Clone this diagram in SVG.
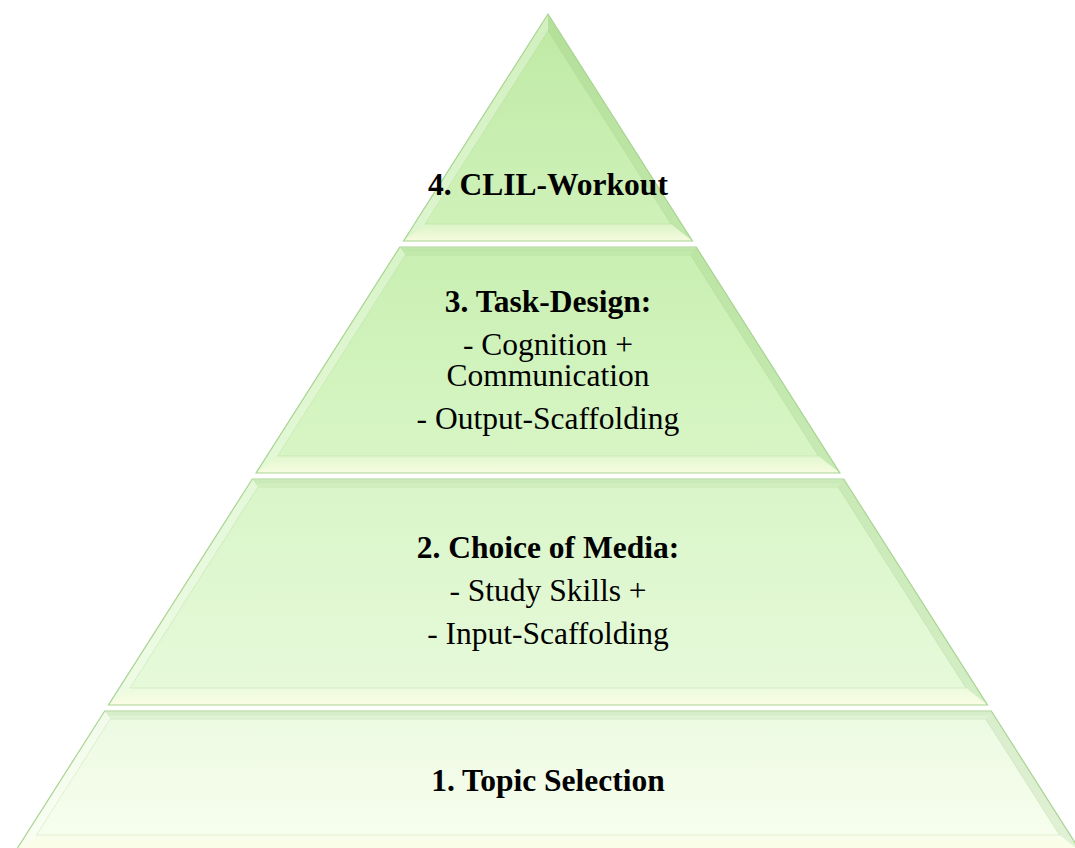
<svg xmlns="http://www.w3.org/2000/svg" width="1075" height="848" viewBox="0 0 1075 848">
  <defs>
    <!-- face fills, darker at the top of each tier -->
    <linearGradient id="g4" x1="0" y1="0" x2="0" y2="1">
      <stop offset="0" stop-color="#bfe9a4"/>
      <stop offset="1" stop-color="#d0f2bb"/>
    </linearGradient>
    <linearGradient id="g3" x1="0" y1="0" x2="0" y2="1">
      <stop offset="0" stop-color="#c9efb2"/>
      <stop offset="1" stop-color="#d8f6c6"/>
    </linearGradient>
    <linearGradient id="g2" x1="0" y1="0" x2="0" y2="1">
      <stop offset="0" stop-color="#d9f5c8"/>
      <stop offset="1" stop-color="#e7fadb"/>
    </linearGradient>
    <linearGradient id="g1" x1="0" y1="0" x2="0" y2="1">
      <stop offset="0" stop-color="#ecfae2"/>
      <stop offset="1" stop-color="#f8feef"/>
    </linearGradient>
    <!-- bevel facets -->
    <linearGradient id="bottomHi" x1="0" y1="0" x2="0" y2="1">
      <stop offset="0" stop-color="#fdfde8" stop-opacity="0.25"/>
      <stop offset="1" stop-color="#fcfde4" stop-opacity="0.85"/>
    </linearGradient>
    <linearGradient id="topSh" x1="0" y1="0" x2="0" y2="1">
      <stop offset="0" stop-color="#ffffff" stop-opacity="0.6"/>
      <stop offset="0.25" stop-color="#9ccc85" stop-opacity="0.3"/>
      <stop offset="1" stop-color="#9ccc85" stop-opacity="0.08"/>
    </linearGradient>
  </defs>
  <style>
    .edge { fill: none; stroke: #a8d492; stroke-width: 1.2; }
    .left { fill: #ffffff; fill-opacity: 0.3; }
    .right { fill: #7fb866; fill-opacity: 0.18; }
    .bottom { fill: url(#bottomHi); }
    .top { fill: url(#topSh); }
    .seam { fill: none; stroke: #9fce88; stroke-opacity: 0.35; stroke-width: 0.8; }
    text { font-family: "Liberation Serif", "Times New Roman", serif; font-size: 31.5px; fill: #000; text-anchor: middle; }
    .h { font-weight: bold; }
  </style>

  <rect width="1075" height="848" fill="#ffffff"/>

  <!-- bottom tier -->
  <g id="tier1">
    <polygon points="104.7,711 991.3,711 1081,852 15,852" fill="url(#g1)"/>
    <polygon class="top" points="104.7,711 991.3,711 985.7,719 110.3,719"/>
    <polygon class="left" points="104.7,711 110.3,719 36.5,835 15,852"/>
    <polygon class="right" points="991.3,711 1081,852 1059.5,835 985.7,719"/>
    <polygon class="bottom" points="36.5,835 1059.5,835 1081,852 15,852"/>
    <polygon class="seam" points="110.3,719 985.7,719 1059.5,835 36.5,835"/>
    <polygon class="edge" points="104.7,711 991.3,711 1081,852 15,852"/>
    <text class="h" x="548" y="791">1. Topic Selection</text>
  </g>

  <!-- second tier -->
  <g id="tier2">
    <polygon points="252.3,479 843.7,479 987.5,705 108.5,705" fill="url(#g2)"/>
    <polygon class="top" points="252.3,479 843.7,479 838.1,487 257.9,487"/>
    <polygon class="left" points="252.3,479 257.9,487 130,688 108.5,705"/>
    <polygon class="right" points="843.7,479 987.5,705 966,688 838.1,487"/>
    <polygon class="bottom" points="130,688 966,688 987.5,705 108.5,705"/>
    <polygon class="seam" points="257.9,487 838.1,487 966,688 130,688"/>
    <polygon class="edge" points="252.3,479 843.7,479 987.5,705 108.5,705"/>
    <text class="h" x="548" y="558">2. Choice of Media:</text>
    <text x="548" y="601">- Study Skills +</text>
    <text x="548" y="644">- Input-Scaffolding</text>
  </g>

  <!-- third tier -->
  <g id="tier3">
    <polygon points="399.8,247 696.2,247 839.9,473 256.1,473" fill="url(#g3)"/>
    <polygon class="top" points="399.8,247 696.2,247 690.6,255 405.4,255"/>
    <polygon class="left" points="399.8,247 405.4,255 277.6,456 256.1,473"/>
    <polygon class="right" points="696.2,247 839.9,473 818.4,456 690.6,255"/>
    <polygon class="bottom" points="277.6,456 818.4,456 839.9,473 256.1,473"/>
    <polygon class="seam" points="405.4,255 690.6,255 818.4,456 277.6,456"/>
    <polygon class="edge" points="399.8,247 696.2,247 839.9,473 256.1,473"/>
    <text class="h" x="548" y="312">3. Task-Design:</text>
    <text x="548" y="355">- Cognition +</text>
    <text x="548" y="386">Communication</text>
    <text x="548" y="429">- Output-Scaffolding</text>
  </g>

  <!-- top tier -->
  <g id="tier4">
    <polygon points="548,14 692.4,241 403.6,241" fill="url(#g4)"/>
    <polygon class="left" points="548,14 403.6,241 425.1,224 548,30.8"/>
    <polygon class="right" points="548,14 692.4,241 670.9,224 548,30.8"/>
    <polygon class="bottom" points="425.1,224 670.9,224 692.4,241 403.6,241"/>
    <polygon class="seam" points="548,30.8 670.9,224 425.1,224"/>
    <polygon class="edge" points="548,14 692.4,241 403.6,241"/>
    <text class="h" x="548" y="195">4. CLIL-Workout</text>
  </g>
</svg>
